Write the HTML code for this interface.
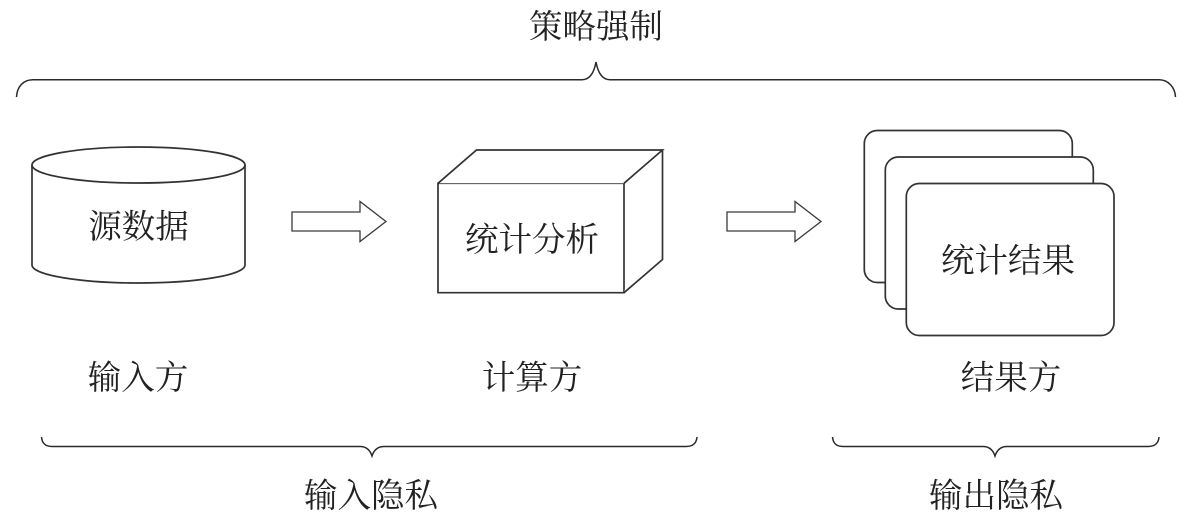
<!DOCTYPE html>
<html lang="zh">
<head>
<meta charset="utf-8">
<style>
html,body{margin:0;padding:0;background:#fff;}
svg{display:block;}
text{font-family:"Liberation Serif","Noto Serif CJK SC",serif;font-size:33.500px;fill:#222;text-anchor:middle;}
.l{fill:#fff;stroke:#333;stroke-width:1.700;}
.b{fill:none;stroke:#2a2a2a;stroke-width:1.500;}
.a{fill:#fff;stroke:#3a3a3a;stroke-width:1.300;}
</style>
</head>
<body>
<svg width="1192" height="528" viewBox="0 0 1192 528" xmlns="http://www.w3.org/2000/svg">
<path class="b" d="M16.500 97C17 87 23 79.700 33 79.700H582C590 79.700 594 73 596 62C598 73 602 79.700 610 79.700H1159C1168 79.700 1175 87 1175.500 97"/>
<path class="l" d="M32 165V265C32 275 80 283 138.500 283S245 275 245 265V165"/>
<ellipse class="l" cx="138.500" cy="165" rx="106.500" ry="18"/>
<path class="a" d="M292 212H360V201.500L386 221.500L360 241.500V231H292Z"/>
<path class="l" d="M438 183.300H624V292.700H438Z"/>
<path class="l" d="M438 183.300L476.500 150H662.500L624 183.300M662.500 150V259.500L624 292.700"/>
<path class="a" d="M727 212H795V201.500L821 221.500L795 241.500V231H727Z"/>
<rect class="l" x="864.300" y="130.500" width="208" height="152" rx="13"/>
<rect class="l" x="885.300" y="157" width="208" height="152" rx="13"/>
<rect class="l" x="906.300" y="183.500" width="207.700" height="152" rx="13"/>
<path class="b" d="M41.500 437C42 443 45 446.500 52 446.500H360C366 446.500 370 450 372 456C374 450 378 446.500 384 446.500H686C693 446.500 696.500 443 697 437"/>
<path class="b" d="M832.500 437C833 443 836 446.500 843 446.500H983C989 446.500 993 450 995 456C997 450 1001 446.500 1007 446.500H1148C1155 446.500 1158.500 443 1159 437"/>
<text x="596" y="38">策略强制</text>
<text x="138.500" y="238">源数据</text>
<text x="532" y="251">统计分析</text>
<text x="1008" y="272">统计结果</text>
<text x="138" y="389">输入方</text>
<text x="532" y="389">计算方</text>
<text x="1011" y="389">结果方</text>
<text x="371" y="507">输入隐私</text>
<text x="996" y="507">输出隐私</text>
</svg>
</body>
</html>
